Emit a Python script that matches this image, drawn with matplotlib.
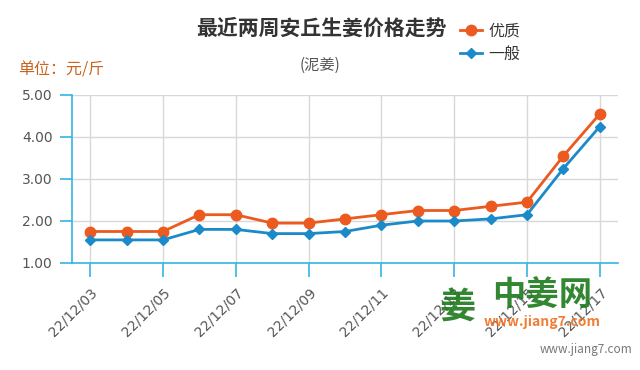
import matplotlib
matplotlib.use("Agg")
import matplotlib.pyplot as plt

plt.rcParams['font.family'] = ['Noto Sans CJK SC', 'DejaVu Sans']

# data
dates = ["22/12/03", "22/12/04", "22/12/05", "22/12/06", "22/12/07", "22/12/08",
         "22/12/09", "22/12/10", "22/12/11", "22/12/12", "22/12/13", "22/12/14",
         "22/12/15", "22/12/16", "22/12/17"]
good = [1.75, 1.75, 1.75, 2.15, 2.15, 1.95, 1.95, 2.05, 2.15, 2.25, 2.25, 2.35, 2.45, 3.55, 4.55]
normal = [1.55, 1.55, 1.55, 1.80, 1.80, 1.70, 1.70, 1.75, 1.90, 2.00, 2.00, 2.05, 2.15, 3.25, 4.25]
y_ticks = [1.0, 2.0, 3.0, 4.0, 5.0]

orange = "#ec5a1f"
blue = "#1a8bc8"
axis_blue = "#35b4e6"
grid_gray = "#d8d8d8"
text_gray = "#555555"

fig = plt.figure(figsize=(6.4, 3.7), dpi=100)
ax = fig.add_axes([72 / 640, 107 / 370, 546 / 640, 168 / 370])

x = list(range(len(dates)))
ax.plot(x, good, color=orange, lw=2.0, marker="o", ms=7.5, zorder=3, label="优质")
ax.plot(x, normal, color=blue, lw=2.0, marker="D", ms=5.5, zorder=3, label="一般")

ax.set_xlim(-0.5, len(dates) - 0.5)
ax.set_ylim(1, 5)
ax.set_yticks(y_ticks)
ax.set_yticklabels([f"{v:.2f}" for v in y_ticks], fontsize=10, color=text_gray,
                   family="DejaVu Sans")
ax.set_xticks(x[::2])
ax.set_xticklabels(dates[::2], rotation=45, ha="right", rotation_mode="anchor",
                   fontsize=10, color=text_gray, family="DejaVu Sans")

ax.grid(True, color=grid_gray, lw=1.0)
ax.set_axisbelow(True)
for side in ["top", "right"]:
    ax.spines[side].set_visible(False)
for side in ["left", "bottom"]:
    ax.spines[side].set_color(axis_blue)
    ax.spines[side].set_linewidth(1.2)
ax.tick_params(axis="y", length=9, color=axis_blue, width=1.2, pad=5)
ax.tick_params(axis="x", length=10, color=axis_blue, width=1.2, pad=6)

# titles
fig.text(321 / 640, 1 - 28 / 370, "最近两周安丘生姜价格走势", ha="center", va="center",
         fontsize=15, fontweight="bold", color="#333333")
fig.text(320 / 640, 1 - 65 / 370, "(泥姜)", ha="center", va="center",
         fontsize=11, color=text_gray)
fig.text(18 / 640, 1 - 70 / 370, "单位：元/斤", ha="left", va="center",
         fontsize=11.5, color="#c8641e")

leg = fig.legend(loc="upper left", bbox_to_anchor=(452 / 640, 1 - 15 / 370),
                 frameon=False, fontsize=11.5, handlelength=1.4, handletextpad=0.4,
                 labelspacing=0.35, borderpad=0)
for t in leg.get_texts():
    t.set_color("#333333")

# watermarks
fig.text(457 / 640, 1 - 308 / 370, "姜", ha="center", va="center",
         fontsize=26, fontweight="bold", color="#1d7a1d", alpha=0.9)
fig.text(542 / 640, 1 - 295 / 370, "中姜网", ha="center", va="center",
         fontsize=24, fontweight="bold", color="#1d7a1d", alpha=0.9)
fig.text(542 / 640, 1 - 322 / 370, "www.jiang7.com", ha="center", va="center",
         fontsize=10, fontweight="bold", style="italic", color="#f07020", alpha=0.9)
fig.text(632 / 640, 1 - 349 / 370, "www.jiang7.com", ha="right", va="center",
         fontsize=8.5, color="#777777")

fig.savefig("out.png", dpi=100)
